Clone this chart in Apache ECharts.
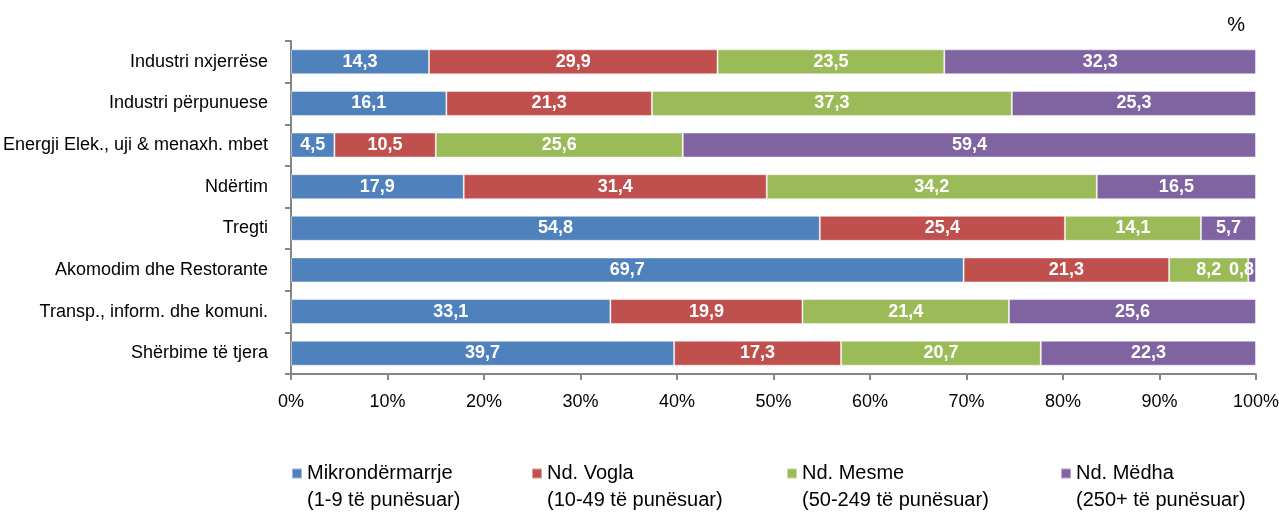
<!DOCTYPE html>
<html>
<head>
<meta charset="utf-8">
<script src="https://cdn.jsdelivr.net/npm/echarts@6/dist/echarts.min.js"></script>
<style>
  html, body { margin: 0; padding: 0; background: #fff; }
  #chart { width: 1279px; height: 512px; }
</style>
</head>
<body>
<div id="chart"></div>
<script>
// sektorët (nga lart poshtë)
const categories = [
  'Industri nxjerrëse',
  'Industri përpunuese',
  'Energji Elek., uji & menaxh. mbet',
  'Ndërtim',
  'Tregti',
  'Akomodim dhe Restorante',
  'Transp., inform. dhe komuni.',
  'Shërbime të tjera'
]
const seriesNames = ['Mikrondërmarrje', 'Nd. Vogla', 'Nd. Mesme', 'Nd. Mëdha']
const seriesSub = ['(1-9 të punësuar)', '(10-49 të punësuar)', '(50-249 të punësuar)', '(250+ të punësuar)']
const micro = [14.3, 16.1, 4.5, 17.9, 54.8, 69.7, 33.1, 39.7]
const small = [29.9, 21.3, 10.5, 31.4, 25.4, 21.3, 19.9, 17.3]
const medium = [23.5, 37.3, 25.6, 34.2, 14.1, 8.2, 21.4, 20.7]
const large = [32.3, 25.3, 59.4, 16.5, 5.7, 0.8, 25.6, 22.3]
const xTicks = [0, 10, 20, 30, 40, 50, 60, 70, 80, 90, 100]
const colors = ['#4F81BD', '#C0504D', '#9BBB59', '#8064A2']
const legendLeft = [286, 526, 781, 1055]

const font = "'Liberation Sans', Arial, sans-serif"
const chart = echarts.init(document.getElementById('chart'))

const values = [micro, small, medium, large]
const series = values.map(function (arr, i) {
  return {
    name: seriesNames[i],
    type: 'bar',
    stack: 'total',
    barWidth: '60%',
    clip: false,
    // segmentet shumë të ngushta: etiketa ngjitur në anën e djathtë
    data: arr.map(function (v) {
      return v < 2 ? { value: v, label: { position: 'insideRight', distance: 2, width: 40 } } : v
    }),
    itemStyle: { color: colors[i], borderColor: 'rgba(255,255,255,0.45)', borderWidth: 1 },
    label: {
      show: true,
      position: 'inside',
      overflow: 'none',
      color: '#fff',
      fontWeight: 'bold',
      fontSize: 18,
      fontFamily: font,
      formatter: function (p) { return p.value.toFixed(1).replace('.', ',') }
    },
    labelLayout: { hideOverlap: false }
  }
})

const legends = seriesNames.map(function (n, i) {
  return {
    data: [n],
    left: legendLeft[i],
    top: 455,
    icon: 'path://M0,0H10V10H0Z M0,37H10V37.01H0Z',
    itemWidth: 10,
    itemHeight: 37,
    itemGap: 4,
    textStyle: { fontFamily: font, fontSize: 20, color: '#000', lineHeight: 27 },
    formatter: function () { return n + '\n' + seriesSub[i] }
  }
})

chart.setOption({
  animation: false,
  color: colors,
  grid: { left: 291, right: 23, top: 41, bottom: 138, outerBoundsMode: 'none' },
  legend: legends,
  title: {
    text: '%',
    right: 29,
    top: 10,
    textStyle: { fontFamily: font, fontSize: 20, fontWeight: 'normal', color: '#000' }
  },
  xAxis: {
    type: 'value',
    min: 0,
    max: 100,
    interval: 10,
    splitLine: { show: false },
    axisLine: { show: true, lineStyle: { color: '#868686', width: 2 } },
    axisTick: { show: true, length: 6, lineStyle: { color: '#868686', width: 2 } },
    axisLabel: {
      color: '#000',
      fontSize: 18,
      fontFamily: font,
      margin: 19,
      formatter: function (v) { return xTicks.indexOf(v) >= 0 ? v + '%' : '' }
    }
  },
  yAxis: {
    type: 'category',
    inverse: true,
    data: categories,
    axisLine: { show: true, lineStyle: { color: '#868686', width: 2 } },
    axisTick: { show: true, length: 6, lineStyle: { color: '#868686', width: 2 } },
    axisLabel: { color: '#000', fontSize: 18, fontFamily: font, margin: 23 }
  },
  series: series
})
</script>
</body>
</html>
